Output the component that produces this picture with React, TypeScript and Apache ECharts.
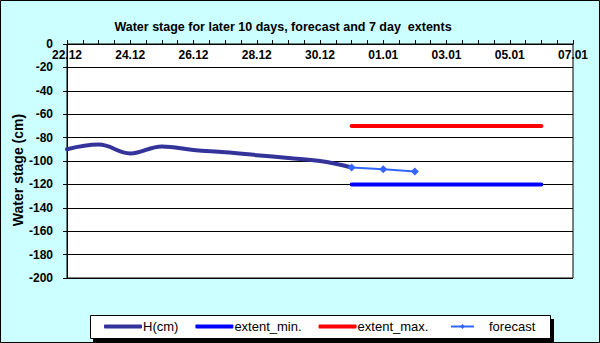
import React, { useEffect, useRef } from "react";
import * as echarts from "echarts";

const DAYS = ["22.12","23.12","24.12","25.12","26.12","27.12","28.12","29.12","30.12","31.12","01.01","02.01","03.01","04.01","05.01","06.01","07.01"];
const TICK_LABELS = ["22.12","24.12","26.12","28.12","30.12","01.01","03.01","05.01","07.01"];

const H_DATES = ["22.12","23.12","24.12","25.12","26.12","27.12","28.12","29.12","30.12","31.12"];
const H_VALUES = [-90, -86, -93.5, -87.5, -90.5, -92.5, -95, -97.5, -100, -105.5];

const EXT_DATES = ["31.12","06.01"];
const EXT_MIN = [-120, -120];
const EXT_MAX = [-70, -70];

const FC_DATES = ["31.12","01.01","02.01"];
const FC_VALUES = [-105.5, -107, -109];

const Y_MIN = -200;
const Y_MAX = 0;
const Y_STEP = 20;

const pos = (d: string) => DAYS.indexOf(d);
const pair = (dates: string[], vals: number[]) => dates.map((d, i) => [pos(d), vals[i]]);

export default function App() {
  const ref = useRef<HTMLDivElement>(null);
  useEffect(() => {
    if (!ref.current) return;
    const chart = echarts.init(ref.current, undefined, { renderer: "svg" });
    const font = "Arial, 'Liberation Sans', sans-serif";
    chart.setOption({
      animation: false,
      backgroundColor: "#ccffff",
      textStyle: { fontFamily: font },
      title: {
        text: "Water stage for later 10 days, forecast and 7 day  extents",
        left: 278,
        top: 15,
        textAlign: "center",
        textStyle: { fontSize: 12.5, fontWeight: "bold", color: "#000", fontFamily: font },
      },
      grid: {
        left: 67,
        right: 27,
        top: 44,
        bottom: 65,
        show: true,
        backgroundColor: "#fff",
        borderColor: "#000",
        borderWidth: 1,
      },
      xAxis: {
        type: "value",
        position: "top",
        min: 0,
        max: DAYS.length - 1,
        interval: 2,
        axisLine: { show: true, onZero: false, lineStyle: { color: "#000", width: 1 } },
        axisTick: { show: true, inside: false, length: 4, lineStyle: { color: "#000" } },
        minorTick: { show: true, splitNumber: 4, length: 4, lineStyle: { color: "#000" } },
        splitLine: { show: false },
        axisLabel: {
          inside: true,
          margin: 5,
          fontSize: 12,
          fontWeight: "bold",
          color: "#000",
          fontFamily: font,
          formatter: (v: number) => TICK_LABELS[Math.round(v / 2)] ?? "",
        },
      },
      yAxis: {
        type: "value",
        min: Y_MIN,
        max: Y_MAX,
        interval: Y_STEP,
        axisLine: { show: true, lineStyle: { color: "#000" } },
        axisTick: { show: true, length: 4, lineStyle: { color: "#000" } },
        splitLine: { show: true, lineStyle: { color: "#000", width: 1 } },
        axisLabel: { fontSize: 12, fontWeight: "bold", color: "#000", margin: 14, fontFamily: font },
      },
      legend: [
        {
          data: ["H(cm)", "extent_min.", "extent_max."],
          left: 104,
          top: 320,
          padding: 0,
          icon: "roundRect",
          itemWidth: 38,
          itemHeight: 4,
          itemGap: 17,
          textStyle: { fontSize: 13, color: "#000", fontFamily: font, padding: [0, 0, 0, -4] },
        },
        {
          data: ["forecast"],
          left: 450,
          top: 320,
          padding: 0,
          itemWidth: 23,
          itemHeight: 6,
          textStyle: { fontSize: 13, color: "#000", fontFamily: font, padding: [0, 0, 0, 10] },
        },
      ],
      graphic: [
        { type: "rect", shape: { x: 0.5, y: 0.5, width: 599, height: 342 }, style: { fill: "none", stroke: "#000", lineWidth: 1 }, z: 100 },
        { type: "rect", shape: { x: 93, y: 319, width: 461, height: 23 }, style: { fill: "#000" }, z: -1 },
        { type: "rect", shape: { x: 90.5, y: 315.5, width: 460, height: 23 }, style: { fill: "#fff", stroke: "#000", lineWidth: 1 }, z: -1 },
        {
          type: "text",
          x: 18,
          y: 170,
          rotation: Math.PI / 2,
          style: {
            text: "Water stage (cm)",
            font: "bold 14px Arial, 'Liberation Sans', sans-serif",
            fill: "#000",
            align: "center",
            verticalAlign: "middle",
          },
        },
      ],
      series: [
        {
          name: "H(cm)",
          type: "line",
          smooth: 0.4,
          symbol: "none",
          data: pair(H_DATES, H_VALUES),
          lineStyle: { color: "#333399", width: 4, cap: "round" },
          itemStyle: { color: "#333399" },
          z: 3,
        },
        {
          name: "extent_min.",
          type: "line",
          symbol: "none",
          data: pair(EXT_DATES, EXT_MIN),
          lineStyle: { color: "#0000ff", width: 4, cap: "round" },
          itemStyle: { color: "#0000ff" },
        },
        {
          name: "extent_max.",
          type: "line",
          symbol: "none",
          data: pair(EXT_DATES, EXT_MAX),
          lineStyle: { color: "#ff0000", width: 4, cap: "round" },
          itemStyle: { color: "#ff0000" },
        },
        {
          name: "forecast",
          type: "line",
          symbol: "diamond",
          symbolSize: 8,
          data: pair(FC_DATES, FC_VALUES),
          lineStyle: { color: "#3366ff", width: 2 },
          itemStyle: { color: "#3366ff" },
          z: 4,
        },
      ],
    });
    return () => chart.dispose();
  }, []);
  return <div ref={ref} style={{ position: "fixed", left: 0, top: 0, width: 600, height: 343 }} />;
}
